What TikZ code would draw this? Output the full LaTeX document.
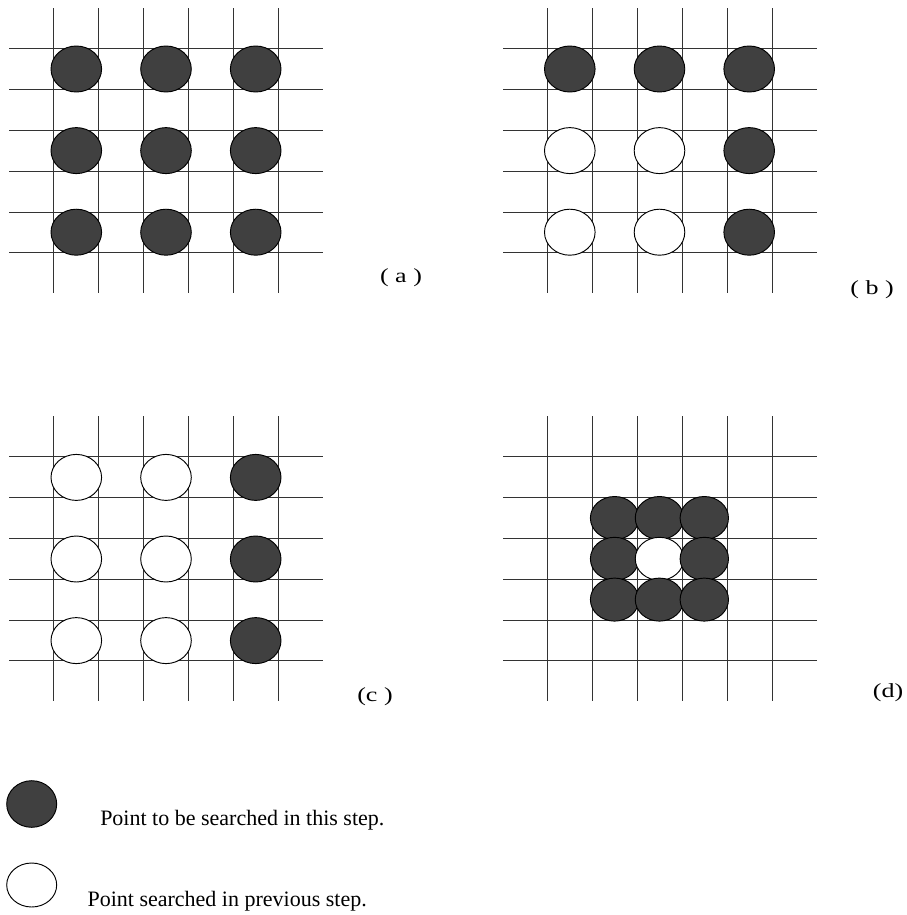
\documentclass[tikz,border=0pt]{standalone}
\usepackage{fontspec}
\setmainfont{Liberation Serif}
\definecolor{dotgray}{RGB}{64,64,64}
\begin{document}
\begin{tikzpicture}[x=0.75pt,y=-0.75pt,
    gridline/.style={line width=0.75pt,black!80},
    hit/.style={fill=dotgray,draw=black,line width=0.7pt},
    done/.style={fill=white,draw=black,line width=0.7pt},
    tag/.style={font=\fontsize{15}{18}\selectfont,xscale=1.3,inner sep=0pt},
    legtext/.style={font=\fontsize{16.5}{20}\selectfont,anchor=base west,inner sep=0pt}]
  \useasboundingbox (0,0) rectangle (907,915);
  % the four grids
  \foreach \gx/\gy in {53.5/48.5,547.5/48.5,53.5/456.5,547.5/456.5}{
    \foreach \k/\l in {0/0,45/41,90/82,135/123,180/164,225/204}{
      \draw[gridline] (\gx+\k,\gy-40.5) -- ++(0,285);
      \draw[gridline] (\gx-44.5,\gy+\l) -- ++(314,0);
    }
  }
  % (a)
  \foreach \i in {0,1,2}
    \foreach \j in {0,1,2}
      \draw[hit] (76.3+\i*89.7,69+\j*81.6) ellipse (25.3 and 23);
  % (b)
  \foreach \i/\j/\s in {0/0/hit,1/0/hit,2/0/hit,0/1/done,1/1/done,2/1/hit,0/2/done,1/2/done,2/2/hit}
    \draw[\s] (569.8+\i*89.7,69+\j*81.6) ellipse (25.3 and 23);
  % (c)
  \foreach \j in {0,1,2}{
    \draw[done] (76.3,477.4+\j*81.6) ellipse (25.3 and 23);
    \draw[done] (166,477.4+\j*81.6) ellipse (25.3 and 23);
    \draw[hit] (255.7,477.4+\j*81.6) ellipse (25.3 and 23);
  }
  % (d)
  \foreach \i/\j/\s in {0/0/hit,1/0/hit,2/0/hit,0/1/hit,1/1/done,2/1/hit,0/2/hit,1/2/hit,2/2/hit}
    \draw[\s] (614.6+\i*44.85,518+\j*40.8) ellipse (24.2 and 21.5);
  \node[tag] (la) at (401,278) {( a )};
  \node[tag] (lb) at (872,290) {( b )};
  \node[tag] (lc) at (375,697) {(c )};
  \node[tag] (ld) at (888,693) {(d)};
  % legend
  \draw[hit] (31.7,804) ellipse (25 and 23.3);
  \draw[done] (31.7,885) ellipse (25 and 22);
  \node[legtext] (now) at (100,825) {Point to be searched in this step.};
  \node[legtext] (old) at (87.3,906.7) {Point searched in previous step.};
\end{tikzpicture}
\end{document}
